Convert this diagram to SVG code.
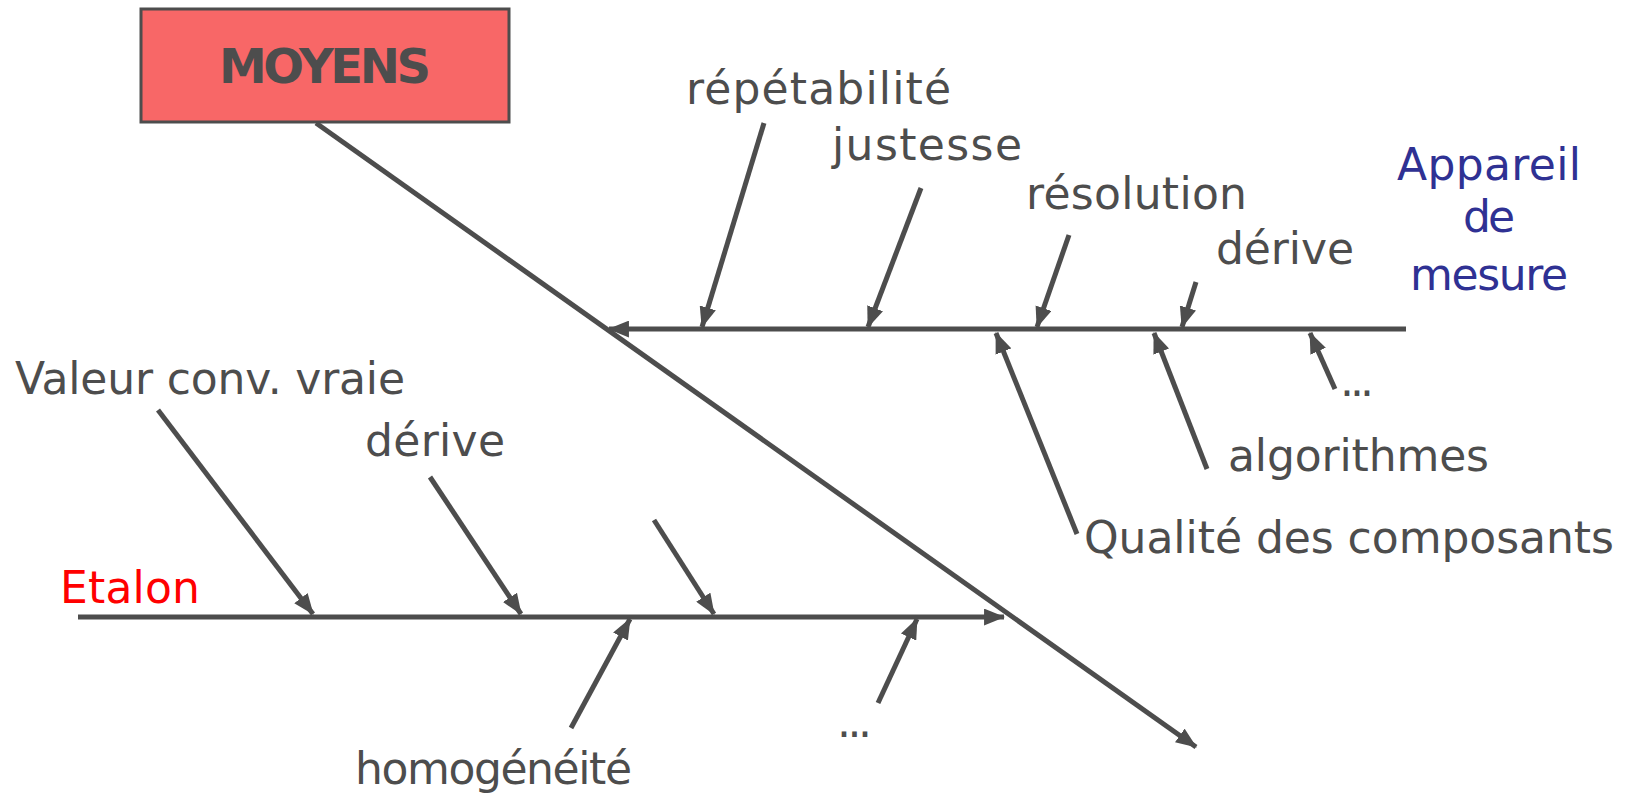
<svg xmlns="http://www.w3.org/2000/svg" width="1635" height="798" viewBox="0 0 1635 798">
  <style>
    .ln { stroke: #4d4d4d; stroke-width: 5; fill: none; marker-end: url(#arr); }
    text { font-family: "Comic Sans MS", "DejaVu Sans", sans-serif; font-size: 44px; fill: #4d4d4d; }
    .blue { fill: #2f3193; }
    .red { fill: #ff0000; }
    .title { font-weight: bold; font-size: 48px; text-anchor: middle; }
  </style>
  <defs>
    <marker id="arr" viewBox="0 0 20 16" refX="19" refY="8" markerWidth="21" markerHeight="17" markerUnits="userSpaceOnUse" orient="auto">
      <path d="M0,0 L20,8 L0,16 Z" fill="#4d4d4d"/>
    </marker>
  </defs>

  <!-- header box -->
  <g id="moyens">
    <rect x="141" y="9" width="368" height="113" fill="#f86767" stroke="#4d4d4d" stroke-width="3"/>
    <text class="title" x="325" y="83" textLength="212">MOYENS</text>
  </g>

  <!-- connectors -->
  <g id="connectors">
    <!-- main spine -->
    <line class="ln" x1="316" y1="123" x2="1196" y2="747"/>
    <!-- measuring instrument branch -->
    <line class="ln" x1="1406" y1="329" x2="609" y2="329"/>
    <line class="ln" x1="764" y1="123" x2="702" y2="327"/>
    <line class="ln" x1="921" y1="188" x2="868" y2="327"/>
    <line class="ln" x1="1069" y1="235" x2="1037" y2="327"/>
    <line class="ln" x1="1196" y1="282" x2="1182" y2="327"/>
    <line class="ln" x1="1077" y1="534" x2="996" y2="333"/>
    <line class="ln" x1="1207" y1="469" x2="1154" y2="333"/>
    <line class="ln" x1="1335" y1="389" x2="1310" y2="333"/>
    <!-- standard branch -->
    <line class="ln" x1="78" y1="617" x2="1004" y2="617"/>
    <line class="ln" x1="158" y1="410" x2="313" y2="614"/>
    <line class="ln" x1="430" y1="477" x2="521" y2="614"/>
    <line class="ln" x1="654" y1="520" x2="714" y2="614"/>
    <line class="ln" x1="571" y1="728" x2="630" y2="619"/>
    <line class="ln" x1="878" y1="703" x2="917" y2="619"/>
  </g>

  <!-- branch titles -->
  <g id="appareil">
    <text class="blue" x="1489" y="180" text-anchor="middle" textLength="184">Appareil</text>
    <text class="blue" x="1489" y="232" text-anchor="middle" textLength="52">de</text>
    <text class="blue" x="1489" y="290" text-anchor="middle" textLength="158">mesure</text>
  </g>
  <g id="etalon">
    <text class="red" x="60" y="603" textLength="140">Etalon</text>
  </g>

  <!-- cause labels -->
  <g id="repetabilite"><text x="686" y="104" textLength="265">répétabilité</text></g>
  <g id="justesse"><text x="832" y="160" textLength="190">justesse</text></g>
  <g id="resolution"><text x="1026" y="209" textLength="221">résolution</text></g>
  <g id="derive-app"><text x="1216" y="264" textLength="138">dérive</text></g>
  <g id="etc-app"><text x="1340" y="396" textLength="34">...</text></g>
  <g id="algorithmes"><text x="1228" y="471" textLength="261">algorithmes</text></g>
  <g id="qualite"><text x="1084" y="553" textLength="530">Qualité des composants</text></g>
  <g id="valeur"><text x="15" y="394" textLength="390">Valeur conv. vraie</text></g>
  <g id="derive-etalon"><text x="365" y="456" textLength="140">dérive</text></g>
  <g id="homogeneite"><text x="355" y="784" textLength="277">homogénéité</text></g>
  <g id="etc-etalon"><text x="837" y="737" textLength="35">...</text></g>
</svg>
